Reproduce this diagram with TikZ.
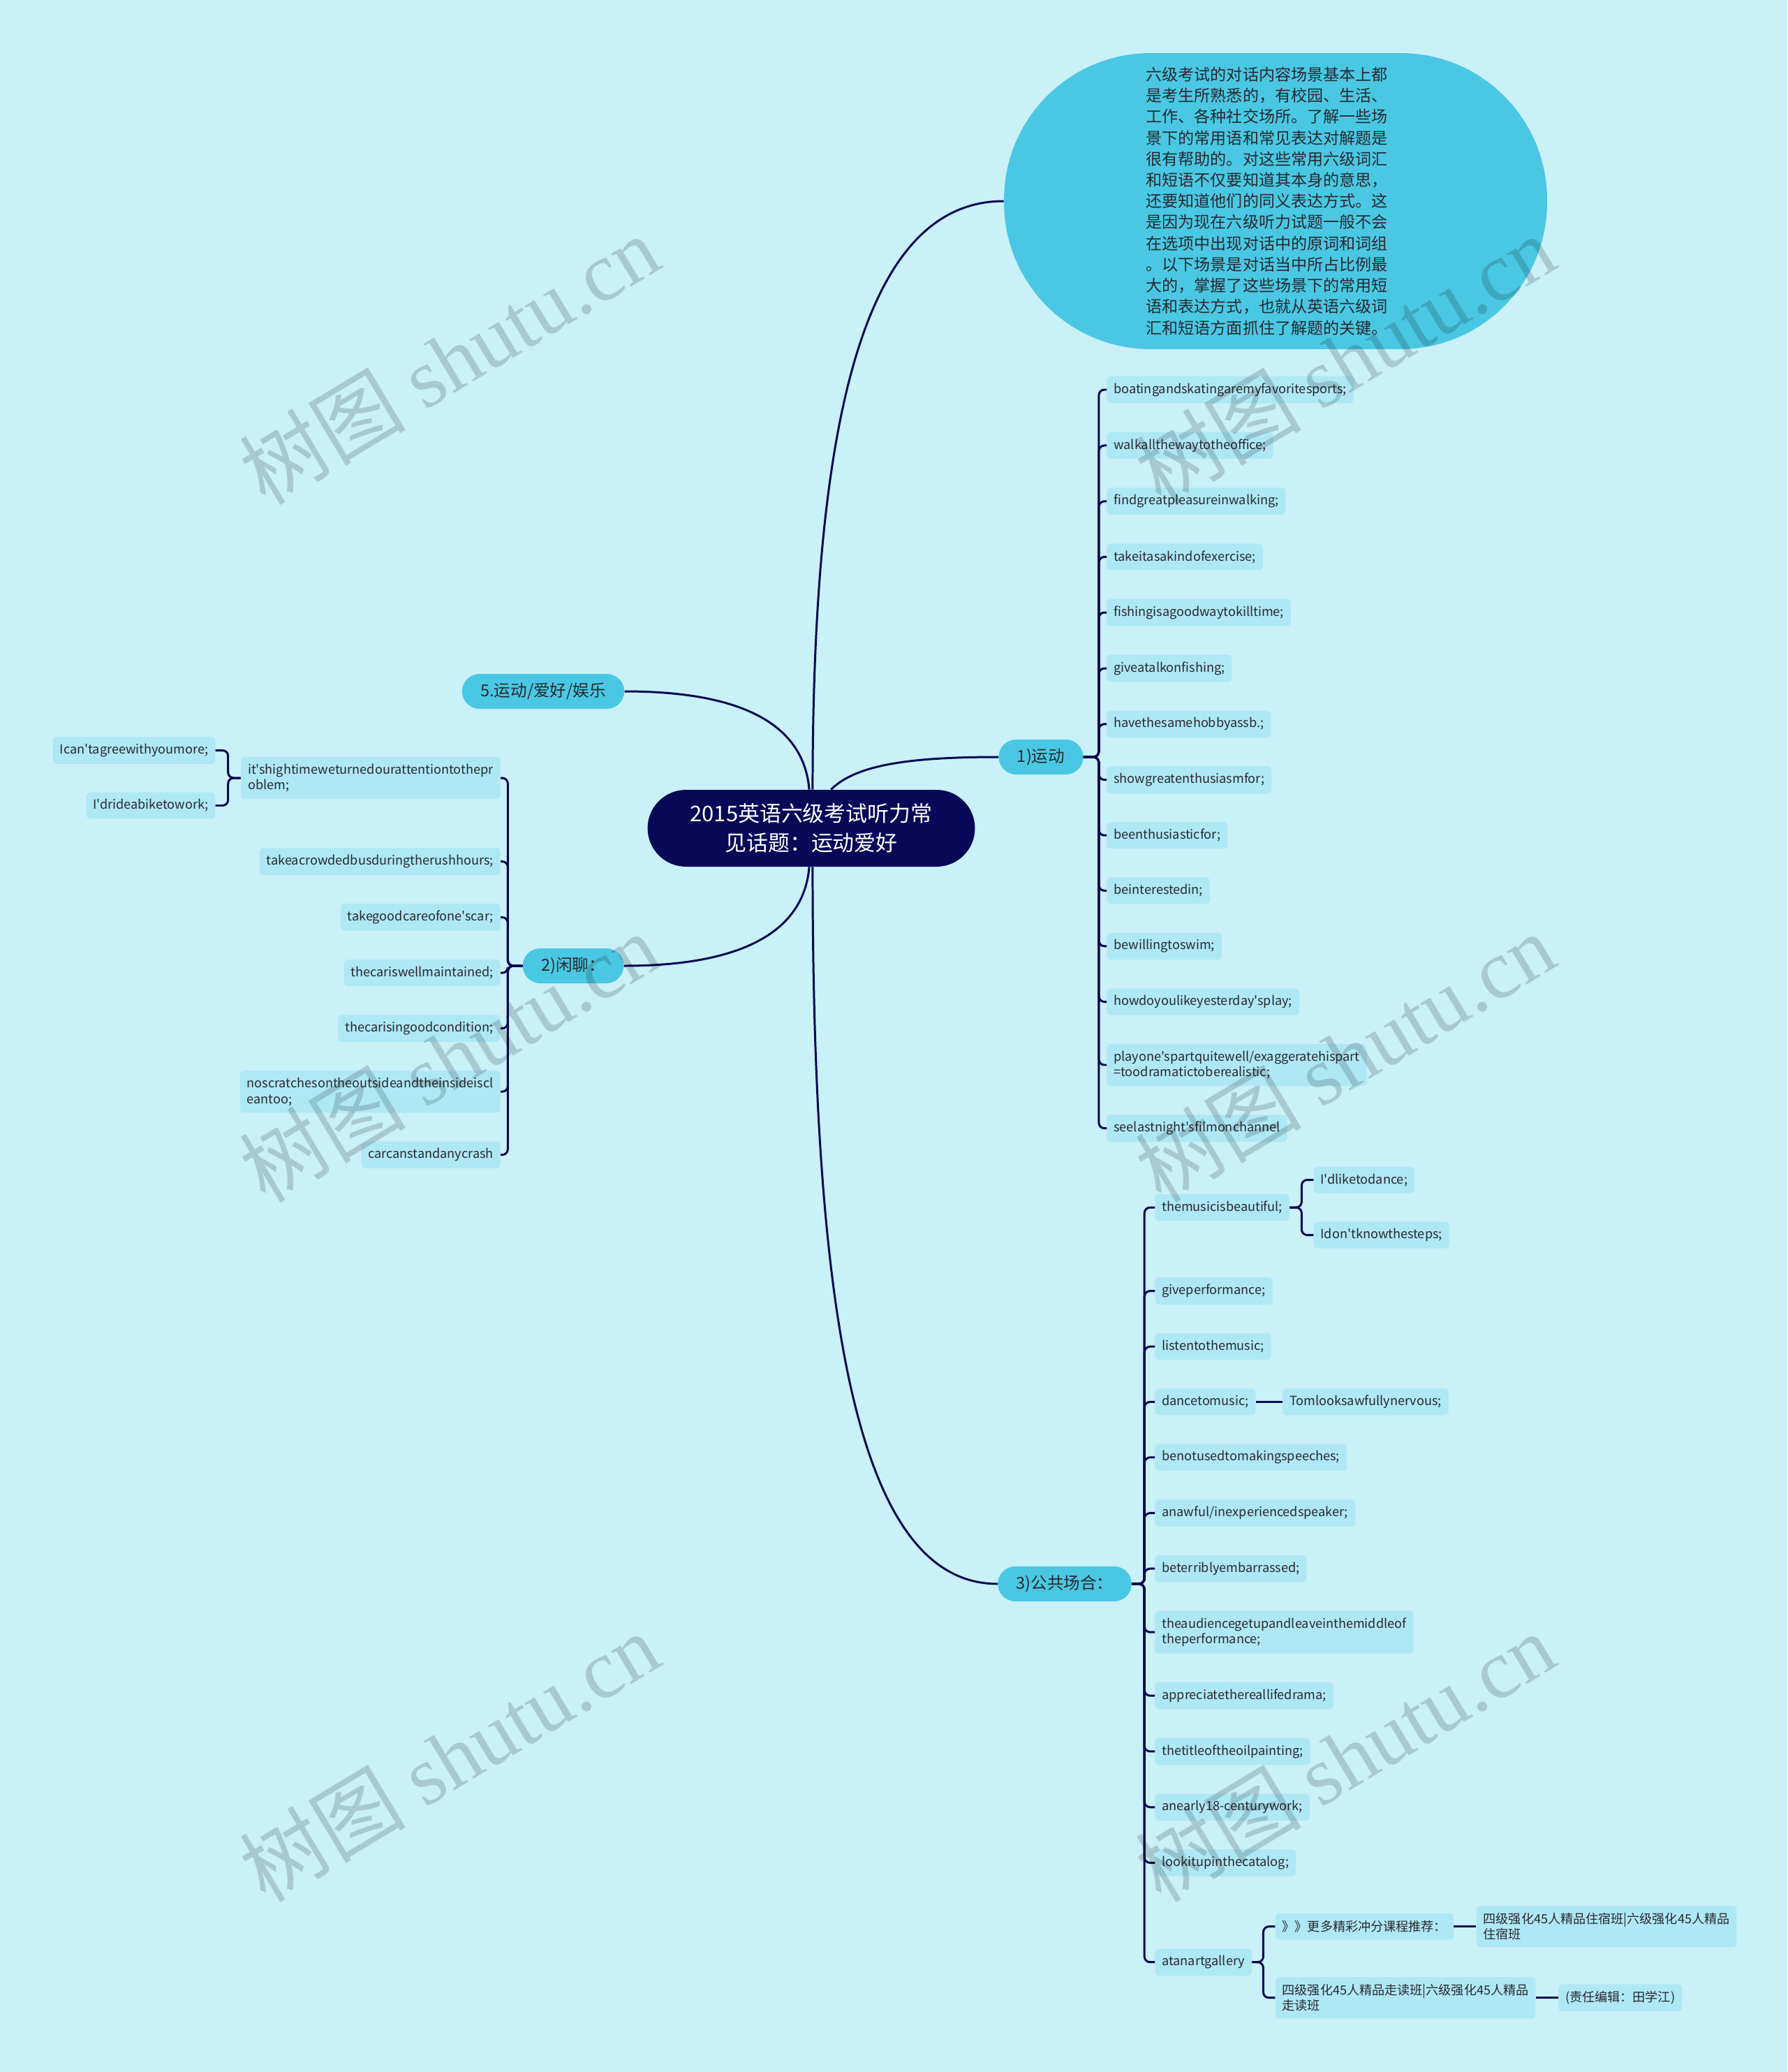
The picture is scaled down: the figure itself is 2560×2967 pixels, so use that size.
\documentclass[tikz,border=0pt]{standalone}
\usepackage{fontspec}
\newfontfamily\notocjk{Noto Sans CJK SC}
\newfontfamily\wmserif{Liberation Serif}
\usetikzlibrary{positioning, calc}

\definecolor{bgcyan}{RGB}{202,240,248}
\definecolor{leafblue}{RGB}{174,232,245}
\definecolor{topicblue}{RGB}{74,200,227}
\definecolor{rootnavy}{RGB}{8,8,88}
\definecolor{linenavy}{RGB}{8,8,80}
\definecolor{inkdark}{RGB}{40,40,48}

\begin{document}
\begin{tikzpicture}[
    x=0.02cm, y=-0.02cm,
    node distance=0.81cm,
    rootnode/.style={rectangle, fill=rootnavy, rounded corners=1.1cm, minimum width=9.38cm, minimum height=2.2cm, align=center, text=white, font=\notocjk\fontsize{17.6}{23.6}\selectfont},
    introbox/.style={rectangle, fill=topicblue, rounded corners=4.2cm, minimum width=15.56cm, minimum height=8.48cm, align=left, text=inkdark, font=\notocjk\fontsize{13.1}{17.2}\selectfont},
    topicbox/.style={rectangle, fill=topicblue, rounded corners=0.5cm, minimum height=1cm, inner xsep=0.53cm, text=inkdark, font=\notocjk\fontsize{13.4}{16}\selectfont},
    leafbox/.style={rectangle, fill=leafblue, rounded corners=0.12cm, minimum height=0.76cm, inner xsep=0.2cm, inner ysep=5.6pt, align=left, text=inkdark, font=\notocjk\fontsize{10.3}{12.9}\selectfont},
    trunkline/.style={draw=linenavy, line width=1.7pt},
    linkline/.style={draw=linenavy, line width=1.7pt, rounded corners=0.16cm},
    wmark/.style={rotate=31, text=black, opacity=0.16, font=\notocjk\fontsize{68}{68}\selectfont}
]
    \useasboundingbox (0,0) rectangle (2560,2967);
    \fill[bgcyan] (0,0) rectangle (2560,2967);

    % centre and main topics
    \node [rootnode] (root) at (1162,1186) {2015英语六级考试听力常\\见话题：运动爱好};
    \node [introbox] (intro) at (1827,288) {六级考试的对话内容场景基本上都\\是考生所熟悉的，有校园、生活、\\工作、各种社交场所。了解一些场\\景下的常用语和常见表达对解题是\\很有帮助的。对这些常用六级词汇\\和短语不仅要知道其本身的意思，\\还要知道他们的同义表达方式。这\\是因为现在六级听力试题一般不会\\在选项中出现对话中的原词和词组\\。以下场景是对话当中所占比例最\\大的，掌握了这些场景下的常用短\\语和表达方式，也就从英语六级词\\汇和短语方面抓住了解题的关键。\hspace*{0.5cm}};
    \node [topicbox] (b5) at (778,990) {5.运动/爱好/娱乐};
    \node [topicbox] (b1) at (1491,1084) {1)运动};
    \node [topicbox] (b2) at (821,1383) {2)闲聊：};
    \node [topicbox] (b3) at (1525,2268) {3)公共场合：};

    % 1) sports
    \node [leafbox, anchor=west] (r1) at (1585,558) {boatingandskatingaremyfavoritesports;};
    \node [leafbox, below=of r1.south west, anchor=north west] (r2) {walkallthewaytotheoffice;};
    \node [leafbox, below=of r2.south west, anchor=north west] (r3) {findgreatpleasureinwalking;};
    \node [leafbox, below=of r3.south west, anchor=north west] (r4) {takeitasakindofexercise;};
    \node [leafbox, below=of r4.south west, anchor=north west] (r5) {fishingisagoodwaytokilltime;};
    \node [leafbox, below=of r5.south west, anchor=north west] (r6) {giveatalkonfishing;};
    \node [leafbox, below=of r6.south west, anchor=north west] (r7) {havethesamehobbyassb.;};
    \node [leafbox, below=of r7.south west, anchor=north west] (r8) {showgreatenthusiasmfor;};
    \node [leafbox, below=of r8.south west, anchor=north west] (r9) {beenthusiasticfor;};
    \node [leafbox, below=of r9.south west, anchor=north west] (r10) {beinterestedin;};
    \node [leafbox, below=of r10.south west, anchor=north west] (r11) {bewillingtoswim;};
    \node [leafbox, below=of r11.south west, anchor=north west] (r12) {howdoyoulikeyesterday'splay;};
    \node [leafbox, below=of r12.south west, anchor=north west] (r13) {playone'spartquitewell/exaggeratehispart\\=toodramatictoberealistic;};
    \node [leafbox, below=of r13.south west, anchor=north west] (r14) {seelastnight'sfilmonchannel};

    % 2) small talk
    \node [leafbox, anchor=east] (l1) at (717,1114) {it'shightimeweturnedourattentiontothepr\\oblem;};
    \node [leafbox, left=0.72cm of l1, yshift=0.79cm] (ll1) {Ican'tagreewithyoumore;};
    \node [leafbox, left=0.72cm of l1, yshift=-0.79cm] (ll2) {I'drideabiketowork;};
    \node [leafbox, below=1.39cm of l1.south east, anchor=north east] (l2) {takeacrowdedbusduringtherushhours;};
    \node [leafbox, below=of l2.south east, anchor=north east] (l3) {takegoodcareofone'scar;};
    \node [leafbox, below=of l3.south east, anchor=north east] (l4) {thecariswellmaintained;};
    \node [leafbox, below=of l4.south east, anchor=north east] (l5) {thecarisingoodcondition;};
    \node [leafbox, below=of l5.south east, anchor=north east] (l6) {noscratchesontheoutsideandtheinsideiscl\\eantoo;};
    \node [leafbox, below=of l6.south east, anchor=north east] (l7) {carcanstandanycrash};

    % 3) public places
    \node [leafbox, anchor=west] (p1) at (1654,1729) {themusicisbeautiful;};
    \node [leafbox, right=0.68cm of p1, yshift=0.79cm] (pp1) {I'dliketodance;};
    \node [leafbox, right=0.68cm of p1, yshift=-0.79cm] (pp2) {Idon'tknowthesteps;};
    \node [leafbox, below=1.61cm of p1.south west, anchor=north west] (p2) {giveperformance;};
    \node [leafbox, below=of p2.south west, anchor=north west] (p3) {listentothemusic;};
    \node [leafbox, below=of p3.south west, anchor=north west] (p4) {dancetomusic;};
    \node [leafbox, right=0.76cm of p4] (pt) {Tomlooksawfullynervous;};
    \node [leafbox, below=of p4.south west, anchor=north west] (p5) {benotusedtomakingspeeches;};
    \node [leafbox, below=of p5.south west, anchor=north west] (p6) {anawful/inexperiencedspeaker;};
    \node [leafbox, below=of p6.south west, anchor=north west] (p7) {beterriblyembarrassed;};
    \node [leafbox, below=of p7.south west, anchor=north west] (p8) {theaudiencegetupandleaveinthemiddleof\\theperformance;};
    \node [leafbox, below=of p8.south west, anchor=north west] (p9) {appreciatethereallifedrama;};
    \node [leafbox, below=of p9.south west, anchor=north west] (p10) {thetitleoftheoilpainting;};
    \node [leafbox, below=of p10.south west, anchor=north west] (p11) {anearly18-centurywork;};
    \node [leafbox, below=of p11.south west, anchor=north west] (p12) {lookitupinthecatalog;};
    \node [leafbox, below=2.06cm of p12.south west, anchor=north west] (p13) {atanartgallery};
    \node [leafbox, right=0.66cm of p13, yshift=1.02cm] (pq1) {》》更多精彩冲分课程推荐：};
    \node [leafbox, right=0.64cm of pq1] (pqq1) {四级强化45人精品住宿班|六级强化45人精品\\住宿班};
    \node [leafbox, right=0.66cm of p13, yshift=-1.02cm] (pq2) {四级强化45人精品走读班|六级强化45人精品\\走读班};
    \node [leafbox, right=0.64cm of pq2] (pqe) {(责任编辑：田学江)};

    % curves from the centre
    \draw [trunkline] (root.88) .. controls +(0,-530) and +(-200,0) .. (intro.west);
    \draw [trunkline] (root.63) .. controls +(35,-35) and +(-130,0) .. (b1.west);
    \draw [trunkline] (root.93) .. controls +(-10,-118) and +(118,0) .. (b5.east);
    \draw [trunkline] (root.267) .. controls +(-10,118) and +(118,0) .. (b2.east);
    \draw [trunkline] (root.272) .. controls +(0,650) and +(-200,0) .. (b3.west);

    % branch connectors
    \foreach \i in {1,...,14} \draw [linkline] (b1.east) -- ++(22,0) |- (r\i.west);
    \foreach \i in {1,...,7} \draw [linkline] (b2.west) -- ++(-21,0) |- (l\i.east);
    \foreach \i in {1,...,13} \draw [linkline] (b3.east) -- ++(18,0) |- (p\i.west);
    \foreach \i in {1,2} \draw [linkline] (l1.west) -- ++(-18,0) |- (ll\i.east);
    \foreach \i in {1,2} \draw [linkline] (p1.east) -- ++(17,0) |- (pp\i.west);
    \foreach \i in {1,2} \draw [linkline] (p13.east) -- ++(16,0) |- (pq\i.west);
    \draw [trunkline] (p4.east) -- (pt.west);
    \draw [trunkline] (pq1.east) -- (pqq1.west);
    \draw [trunkline] (pq2.east) -- (pqe.west);

    % watermark
    \node [wmark] (wm1) at (643,515) {树图 {\wmserif shutu.cn}};
    \node [wmark] (wm2) at (1926,515) {树图 {\wmserif shutu.cn}};
    \node [wmark] (wm3) at (643,1514) {树图 {\wmserif shutu.cn}};
    \node [wmark] (wm4) at (1926,1514) {树图 {\wmserif shutu.cn}};
    \node [wmark] (wm5) at (643,2516) {树图 {\wmserif shutu.cn}};
    \node [wmark] (wm6) at (1926,2516) {树图 {\wmserif shutu.cn}};
\end{tikzpicture}
\end{document}
